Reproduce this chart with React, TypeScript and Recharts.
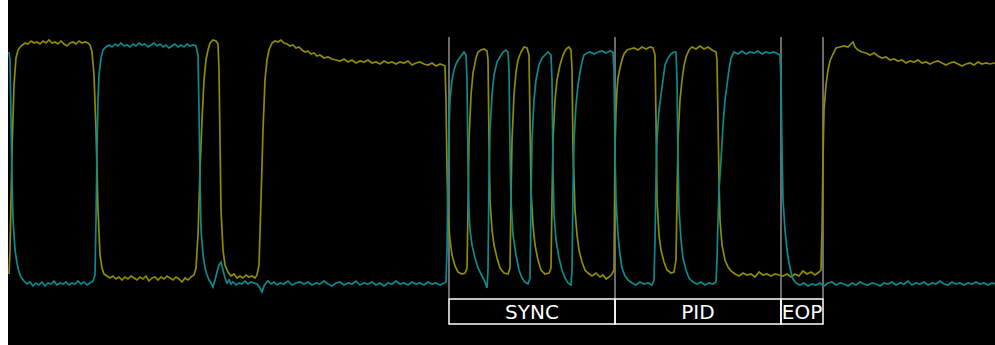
import { LineChart, Line, XAxis, YAxis, ReferenceLine, ReferenceArea } from 'recharts';

// USB full-speed packet start captured on a scope: D+ (yellow) and D- (teal).
// [sample, ADC counts] — 0 is the idle low level, ~240 the driven high level.
const dPlus: [number, number][] = [
  [1, 8], [2, 32], [4, 132], [6, 197], [8, 224], [10, 232], [13, 236], [17, 239], [20, 238], [23, 241],
  [26, 239], [29, 240], [32, 238], [35, 241], [38, 239], [41, 242], [44, 239], [47, 240], [50, 238], [53, 241],
  [56, 238], [59, 236], [62, 239], [65, 240], [68, 238], [71, 241], [74, 239], [77, 240], [80, 239], [82, 237],
  [84, 230], [86, 207], [88, 152], [90, 72], [92, 27], [94, 14], [96, 8], [99, 6], [102, 4], [105, 6],
  [108, 3], [111, 5], [114, 2], [117, 5], [120, 3], [123, 6], [126, 4], [129, 2], [132, 5], [135, 3],
  [138, 6], [141, 1], [144, 4], [147, 5], [150, 2], [153, 5], [156, 3], [159, 6], [162, 4], [165, 2],
  [168, 5], [171, 3], [174, 0], [177, 4], [180, 2], [183, 5], [186, 7], [188, 14], [190, 47], [192, 112],
  [194, 162], [196, 202], [198, 222], [200, 232], [202, 239], [205, 242], [208, 241], [210, 238], [211, 212], [212, 142],
  [213, 72], [215, 32], [217, 17], [220, 10], [223, 6], [226, 8], [229, 4], [232, 6], [235, 4], [238, 7],
  [241, 5], [244, 6], [247, 4], [249, 7], [251, 17], [253, 82], [255, 152], [257, 202], [259, 222], [261, 232],
  [264, 239], [267, 241], [270, 240], [273, 242], [276, 239], [279, 238], [282, 236], [285, 237], [288, 234], [291, 235],
  [294, 232], [297, 230], [300, 231], [303, 228], [306, 229], [309, 226], [312, 227], [316, 224], [320, 225], [324, 223],
  [328, 222], [332, 221], [336, 223], [340, 220], [344, 222], [348, 219], [352, 221], [356, 220], [360, 222], [364, 219],
  [368, 220], [372, 218], [376, 221], [380, 219], [384, 220], [388, 218], [392, 220], [396, 219], [400, 221], [404, 217],
  [408, 219], [412, 220], [416, 218], [420, 217], [424, 219], [428, 216], [432, 218], [435, 217], [437, 216], [438, 182],
  [439, 112], [440, 67], [442, 42], [444, 27], [447, 16], [450, 10], [454, 8], [457, 9], [459, 14], [460, 72],
  [461, 142], [463, 187], [465, 209], [468, 224], [470, 230], [473, 232], [476, 233], [479, 231], [480, 222], [481, 142],
  [482, 82], [484, 52], [486, 37], [489, 24], [492, 14], [496, 9], [500, 8], [502, 14], [503, 82], [504, 142],
  [506, 187], [508, 210], [510, 222], [513, 230], [516, 235], [519, 234], [521, 227], [522, 162], [523, 92], [525, 57],
  [527, 37], [530, 22], [533, 12], [537, 8], [541, 9], [543, 14], [544, 82], [545, 142], [547, 182], [549, 202],
  [552, 217], [555, 227], [558, 233], [561, 235], [563, 232], [564, 212], [565, 132], [567, 72], [569, 47], [571, 32],
  [574, 20], [577, 12], [580, 9], [584, 6], [588, 9], [592, 5], [595, 7], [598, 3], [601, 5], [604, 8],
  [606, 12], [607, 132], [608, 172], [609, 192], [610, 204], [612, 214], [614, 222], [616, 228], [619, 232], [622, 233],
  [626, 234], [630, 232], [634, 235], [638, 233], [642, 235], [645, 234], [647, 227], [648, 162], [649, 82], [651, 47],
  [653, 32], [656, 20], [659, 12], [663, 9], [666, 10], [668, 22], [669, 82], [670, 142], [672, 182], [674, 202],
  [676, 216], [678, 225], [681, 232], [684, 235], [688, 233], [692, 236], [696, 233], [700, 235], [704, 232], [708, 230],
  [709, 222], [710, 162], [711, 102], [712, 62], [714, 37], [717, 22], [720, 15], [723, 11], [727, 8], [731, 6],
  [735, 9], [739, 7], [743, 8], [747, 5], [751, 10], [755, 7], [759, 8], [763, 6], [767, 8], [771, 7],
  [775, 6], [779, 8], [783, 5], [787, 8], [791, 6], [795, 11], [799, 8], [803, 10], [807, 7], [811, 10],
  [813, 12], [814, 52], [815, 122], [816, 172], [818, 197], [820, 212], [822, 221], [825, 228], [828, 234], [832, 235],
  [836, 236], [840, 235], [843, 238], [845, 240], [847, 235], [850, 232], [854, 230], [858, 229], [862, 227], [866, 229],
  [870, 226], [874, 224], [878, 225], [882, 222], [886, 223], [890, 221], [894, 222], [898, 219], [902, 221], [906, 220],
  [910, 222], [914, 219], [918, 220], [922, 218], [926, 220], [930, 221], [934, 219], [938, 217], [942, 219], [946, 220],
  [950, 218], [954, 216], [958, 218], [962, 219], [966, 217], [970, 220], [974, 218], [978, 219], [982, 218], [987, 219],
];

const dMinus: [number, number][] = [
  [1, 230], [2, 222], [3, 162], [4, 102], [5, 62], [7, 32], [9, 19], [11, 10], [13, 5], [16, 1],
  [19, -2], [22, 0], [25, -4], [28, -1], [31, -3], [34, 0], [37, -4], [40, -1], [43, -2], [46, 1],
  [49, -3], [52, -1], [55, -2], [58, 0], [61, -3], [64, -1], [67, -2], [70, 1], [73, -2], [76, 0],
  [79, -3], [82, -1], [85, 1], [87, 7], [88, 62], [89, 132], [90, 182], [91, 207], [93, 224], [95, 232],
  [98, 235], [101, 237], [104, 235], [107, 238], [110, 236], [113, 239], [116, 236], [119, 237], [122, 235], [125, 238],
  [128, 236], [131, 239], [134, 237], [137, 238], [140, 235], [143, 237], [146, 239], [149, 236], [152, 238], [155, 235],
  [158, 237], [161, 234], [164, 236], [167, 238], [170, 235], [173, 237], [176, 235], [179, 238], [182, 236], [185, 237],
  [188, 236], [190, 227], [191, 172], [192, 102], [193, 52], [195, 27], [197, 14], [199, 7], [201, 2], [203, -1],
  [205, -5], [207, 2], [209, 10], [211, 17], [213, 20], [215, 12], [217, 4], [219, -1], [221, 2], [223, -2],
  [225, 0], [228, -3], [231, -1], [234, -2], [237, 1], [240, -2], [243, 0], [246, -1], [249, -2], [252, -6],
  [254, -10], [256, -4], [258, -1], [260, 1], [263, -2], [266, 0], [269, -3], [272, -1], [276, -2], [280, 1],
  [284, -3], [288, -1], [292, 0], [296, -2], [300, 0], [304, -3], [308, -1], [312, -2], [316, 1], [320, -2],
  [324, -4], [328, -1], [332, 0], [336, -3], [340, -1], [344, -2], [348, 1], [352, -3], [356, -1], [360, -2],
  [364, 0], [368, -3], [372, -1], [376, -4], [380, -1], [384, -2], [388, 1], [392, -2], [396, -1], [400, -3],
  [404, 0], [408, -2], [412, -1], [416, -3], [420, 0], [424, -2], [428, -1], [432, -3], [436, -1], [438, 0],
  [439, 32], [440, 102], [441, 152], [442, 182], [444, 202], [446, 212], [448, 218], [450, 222], [453, 226], [456, 230],
  [458, 227], [459, 202], [460, 122], [461, 72], [462, 52], [464, 37], [467, 24], [470, 14], [474, 6], [477, 0],
  [479, -6], [480, 12], [481, 102], [482, 152], [484, 187], [486, 207], [489, 220], [492, 225], [495, 230], [498, 232],
  [500, 230], [501, 212], [502, 132], [503, 82], [505, 47], [508, 27], [511, 12], [514, 4], [517, 0], [520, -2],
  [522, 4], [523, 82], [524, 142], [526, 182], [528, 202], [531, 217], [534, 224], [537, 227], [540, 230], [543, 227],
  [544, 202], [545, 112], [546, 67], [548, 42], [551, 24], [554, 12], [557, 4], [560, -1], [563, -3], [564, 12],
  [565, 92], [566, 142], [568, 177], [570, 197], [572, 210], [574, 220], [576, 227], [579, 229], [582, 230], [586, 228],
  [590, 230], [594, 231], [598, 229], [602, 231], [605, 230], [606, 212], [607, 132], [608, 82], [610, 47], [612, 27],
  [614, 14], [617, 6], [620, 2], [624, -1], [628, -3], [632, 0], [636, -2], [640, -1], [644, -3], [646, 2],
  [647, 42], [648, 102], [649, 142], [651, 172], [653, 187], [655, 202], [657, 217], [660, 224], [663, 228], [666, 230],
  [668, 230], [669, 202], [670, 122], [671, 72], [673, 42], [675, 24], [678, 12], [681, 4], [685, 0], [689, -2],
  [693, 0], [697, -3], [701, -1], [705, -2], [708, 0], [709, 22], [710, 62], [711, 92], [713, 122], [715, 157],
  [717, 182], [719, 197], [721, 212], [723, 224], [726, 230], [730, 228], [734, 231], [738, 228], [742, 230], [746, 229],
  [750, 231], [754, 228], [758, 230], [762, 229], [766, 230], [770, 228], [772, 227], [773, 202], [774, 132], [775, 82],
  [777, 52], [779, 32], [781, 19], [783, 10], [785, 3], [788, -1], [792, -3], [796, -1], [800, -4], [804, -2],
  [808, -3], [812, -1], [816, -4], [820, -1], [824, 0], [828, -3], [832, -1], [836, -2], [840, -4], [844, -1],
  [848, -3], [852, 0], [856, -2], [860, -3], [864, -1], [868, -2], [872, -4], [876, -1], [880, -2], [884, 0],
  [888, -3], [892, -1], [896, -2], [900, 1], [904, -3], [908, -1], [912, -2], [916, 0], [920, -3], [924, -1],
  [928, -2], [932, 1], [936, -2], [940, -3], [944, 0], [948, -2], [952, -1], [956, -3], [960, -1], [964, -2],
  [968, 0], [972, -2], [976, -1], [980, -3], [984, -1], [987, -2],
];

// packet field boundaries (sample index) and their names
const fieldEdges = [441, 607, 773, 815];
const fieldNames = ['SYNC', 'PID', 'EOP'];

const toRows = (pts: [number, number][]) => pts.map(([t, v]) => ({ t, v }));
const fields = fieldNames.map((name, i) => ({ name, x1: fieldEdges[i], x2: fieldEdges[i + 1] }));

const MARKER_TOP = 245;
const BOX_TOP = -17;
const BOX_BOTTOM = -42;

export default function App() {
  return (
    <div style={{ position: 'absolute', left: 8, top: 0, width: 987, height: 345, background: '#000' }}>
      <LineChart width={987} height={345} margin={{ top: 0, right: 0, bottom: 0, left: 0 }}>
        <XAxis type="number" dataKey="t" domain={[0, 987]} hide />
        <YAxis type="number" domain={[-63, 282]} hide />
        {fieldEdges.map((x) => (
          <ReferenceLine
            key={x}
            segment={[{ x, y: BOX_TOP }, { x, y: MARKER_TOP }]}
            stroke="#d4d4d4"
            strokeWidth={1}
          />
        ))}
        {fields.map((f) => (
          <ReferenceArea
            key={f.name}
            x1={f.x1}
            x2={f.x2}
            y1={BOX_BOTTOM}
            y2={BOX_TOP}
            stroke="#ffffff"
            strokeWidth={1.5}
            fill="none"
            label={{ value: f.name, position: 'center', fill: '#ffffff', fontSize: 20, fontFamily: 'DejaVu Sans' }}
          />
        ))}
        <Line data={toRows(dPlus)} dataKey="v" type="linear" stroke="#8e8c00" strokeWidth={1.7} dot={false} isAnimationActive={false} />
        <Line data={toRows(dMinus)} dataKey="v" type="linear" stroke="#0b8a8e" strokeWidth={1.7} dot={false} isAnimationActive={false} />
      </LineChart>
    </div>
  );
}
